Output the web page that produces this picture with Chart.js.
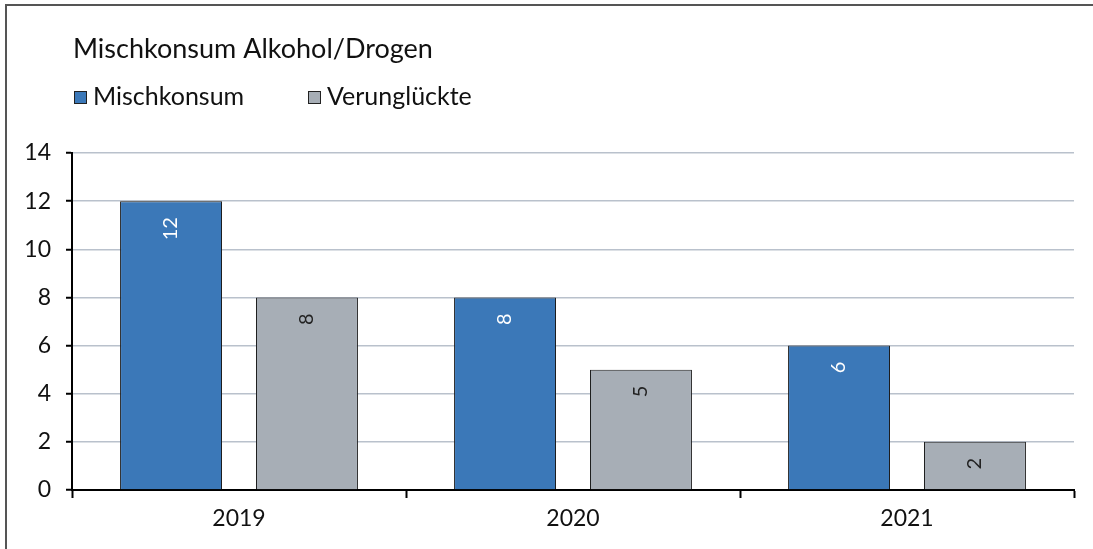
<!DOCTYPE html>
<html>
<head>
<meta charset="utf-8">
<script src="https://cdn.jsdelivr.net/npm/chart.js@4"></script>
<style>
  html, body { margin: 0; padding: 0; background: #fff; overflow: hidden; }
  #frame { position: absolute; left: 5px; top: 4px; width: 1200px; height: 700px; border: 2px solid #555; }
  #chart { position: absolute; left: 0; top: 0; }
</style>
</head>
<body>
<div id="frame"></div>
<canvas id="chart" width="1093" height="549"></canvas>
<script>
const title = "Mischkonsum Alkohol/Drogen";
const years = ["2019", "2020", "2021"];
const seriesNames = ["Mischkonsum", "Verunglückte"];
const mischkonsum = [12, 8, 6];
const verunglueckte = [8, 5, 2];
const yTicks = [0, 2, 4, 6, 8, 10, 12, 14];

const FONT = "Lato, 'Noto Sans', sans-serif";
const colors = ["#3b78b8", "#a7aeb6"];
const labelColors = ["#ffffff", "#222222"];

// title + legend drawn by hand, left-aligned to the plot
const headerPlugin = {
    id: "header",
    afterDraw(chart) {
        const ctx = chart.ctx;
        ctx.save();
        ctx.fillStyle = "#111";
        ctx.textBaseline = "alphabetic";
        ctx.textAlign = "left";
        ctx.font = "27px " + FONT;
        ctx.fillText(title, 73, 58);

        ctx.font = "25px " + FONT;
        const boxX = [74, 308];
        chart.data.datasets.forEach(function (ds, i) {
            ctx.fillStyle = ds.backgroundColor;
            ctx.fillRect(boxX[i], 91, 13, 13);
            ctx.strokeStyle = "#222";
            ctx.lineWidth = 1;
            ctx.strokeRect(boxX[i] + 0.5, 91.5, 12, 12);
            ctx.fillStyle = "#111";
            ctx.fillText(ds.label, boxX[i] + 19, 105);
        });
        ctx.restore();
    }
};

// rotated value labels inside the top of each bar
const valueLabels = {
    id: "valueLabels",
    afterDatasetsDraw(chart) {
        const ctx = chart.ctx;
        ctx.save();
        ctx.font = "20px " + FONT;
        chart.data.datasets.forEach(function (ds, i) {
            const meta = chart.getDatasetMeta(i);
            meta.data.forEach(function (bar, j) {
                ctx.save();
                ctx.translate(bar.x, bar.y + 16);
                ctx.rotate(-Math.PI / 2);
                ctx.textAlign = "right";
                ctx.textBaseline = "middle";
                ctx.fillStyle = labelColors[i];
                ctx.fillText(String(ds.data[j]), 0, 0);
                ctx.restore();
            });
        });
        ctx.restore();
    }
};

const ctx = document.getElementById("chart").getContext("2d");

new Chart(ctx, {
    type: "bar",
    data: {
        labels: years,
        datasets: [{
            label: seriesNames[0],
            data: mischkonsum,
            backgroundColor: colors[0],
            borderColor: "#1e1e1e",
            borderWidth: 1
        }, {
            label: seriesNames[1],
            data: verunglueckte,
            backgroundColor: colors[1],
            borderColor: "#1e1e1e",
            borderWidth: 1
        }]
    },
    options: {
        responsive: false,
        animation: false,
        categoryPercentage: 0.814,
        barPercentage: 0.75,
        layout: {
            padding: { left: 0, right: 19, top: 153, bottom: 0 }
        },
        plugins: {
            legend: { display: false },
            title: { display: false },
            tooltip: { enabled: false }
        },
        scales: {
            x: {
                afterFit(scale) { scale.height = 59; },
                grid: {
                    offset: true,
                    drawOnChartArea: false,
                    drawTicks: true,
                    tickLength: 8,
                    tickWidth: 2,
                    tickColor: "#000",
                    color: "#000"
                },
                border: { color: "#000", width: 2 },
                ticks: {
                    color: "#111",
                    font: { family: FONT, size: 23 },
                    padding: 7
                }
            },
            y: {
                min: 0,
                max: 14,
                afterFit(scale) { scale.width = 72; },
                afterBuildTicks(scale) {
                    scale.ticks = yTicks.map(function (v) { return { value: v }; });
                },
                grid: {
                    color: "#b9c1cc",
                    lineWidth: 1.5,
                    tickColor: "#000",
                    tickLength: 6,
                    tickWidth: 2
                },
                border: { color: "#000", width: 2 },
                ticks: {
                    color: "#111",
                    font: { family: FONT, size: 23 },
                    padding: 15
                }
            }
        }
    },
    plugins: [valueLabels, headerPlugin]
});
</script>
</body>
</html>
